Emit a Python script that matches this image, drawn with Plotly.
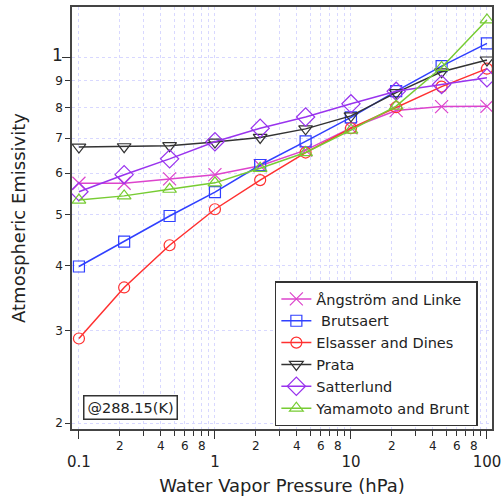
import plotly.graph_objects as go

# ---- data ----
pressure_hpa = [0.1, 0.215, 0.464, 1, 2.15, 4.64, 10, 21.5, 46.4, 100]

angstrom_linke = [0.574, 0.574, 0.585, 0.596, 0.620, 0.664, 0.732, 0.790, 0.804, 0.805]
brutsaert = [0.398, 0.444, 0.497, 0.552, 0.622, 0.690, 0.767, 0.861, 0.961, 1.062]
elsasser_dines = [0.290, 0.363, 0.437, 0.512, 0.582, 0.657, 0.731, 0.802, 0.878, 0.950]
prata = [0.673, 0.674, 0.677, 0.688, 0.702, 0.729, 0.772, 0.855, 0.937, 0.987]
satterlund = [0.553, 0.596, 0.639, 0.689, 0.731, 0.768, 0.814, 0.860, 0.886, 0.913]
yamamoto_brunt = [0.533, 0.543, 0.559, 0.575, 0.613, 0.657, 0.725, 0.806, 0.955, 1.177]

series_names = ["Ångström and Linke", " Brutsaert", "Elsasser and Dines", "Prata",
                "Satterlund", "Yamamoto and Brunt"]

x_minor_vals = [0.1, 0.2, 0.3, 0.4, 0.5, 0.6, 0.7, 0.8, 0.9,
                1, 2, 3, 4, 5, 6, 7, 8, 9,
                10, 20, 30, 40, 50, 60, 70, 80, 90, 100]
x_minor_labels = ["", "2", "", "4", "", "6", "", "8", "",
                  "", "2", "", "4", "", "6", "", "8", "",
                  "", "2", "", "4", "", "6", "", "8", "", ""]
x_major_vals = [0.1, 1, 10, 100]
x_major_labels = ["0.1", "1", "10", "100"]

y_tickvals = [0.2, 0.3, 0.4, 0.5, 0.6, 0.7, 0.8, 0.9, 1.0]
y_ticklabels = ["2", "3", "4", "5", "6", "7", "8", "9", "1"]
y_major = [1.0]

FONT = "DejaVu Sans, Arial, sans-serif"

styles = [
    dict(color="#dd44cc", symbol="x-thin-open", size=13),
    dict(color="#3040ff", symbol="square-open", size=11),
    dict(color="#ff3030", symbol="circle-open", size=11),
    dict(color="#333333", symbol="triangle-down-open", size=12),
    dict(color="#9933ee", symbol="diamond-open", size=14),
    dict(color="#77cc33", symbol="triangle-up-open", size=12),
]
all_series = [angstrom_linke, brutsaert, elsasser_dines, prata, satterlund, yamamoto_brunt]

fig = go.Figure()
for name, ys, st in zip(series_names, all_series, styles):
    fig.add_trace(go.Scatter(
        x=pressure_hpa, y=ys, name=name, mode="lines+markers",
        line=dict(color=st["color"], width=1.5),
        marker=dict(symbol=st["symbol"], size=st["size"], color=st["color"],
                    line=dict(color=st["color"], width=1.2)),
    ))

# invisible carrier so the overlay axes (decade ticks / labels) get drawn
fig.add_trace(go.Scatter(x=pressure_hpa, y=prata, xaxis="x2", yaxis="y2",
                         mode="none", showlegend=False, hoverinfo="skip"))


def fmt_y(v, t):
    if v in y_major:
        return "<span style='font-size:17px'>%s</span>" % t
    return t


grid_col = "#d8d8ff"
fig.update_layout(
    width=503, height=498,
    margin=dict(l=72, r=11, t=7, b=69),
    paper_bgcolor="white", plot_bgcolor="white",
    font=dict(family=FONT, color="#222222", size=12),
    showlegend=True,
    legend=dict(x=0.483, y=0.006, xanchor="left", yanchor="bottom",
                bgcolor="white", bordercolor="#333333", borderwidth=1.5,
                font=dict(size=14.5, family=FONT, color="#222222"),
                tracegroupgap=0, itemwidth=30),
    xaxis=dict(type="log", range=[-1.051, 2.037], automargin=False,
               tickmode="array", tickvals=x_minor_vals, ticktext=x_minor_labels,
               tickangle=0,
               ticks="outside", ticklen=5, tickwidth=1.2, tickcolor="#333333",
               tickfont=dict(size=12, family=FONT, color="#222222"),
               showline=True, linecolor="#444444", linewidth=1.5, mirror=True,
               showgrid=True, gridcolor=grid_col, griddash="dot", gridwidth=1,
               zeroline=False,
               title=dict(text="Water Vapor Pressure (hPa)", standoff=27,
                          font=dict(size=18, family=FONT, color="#222222"))),
    yaxis=dict(type="log", range=[-0.7104, 0.0955], automargin=False,
               tickmode="array", tickvals=y_tickvals,
               ticktext=[fmt_y(v, t) for v, t in zip(y_tickvals, y_ticklabels)],
               ticks="outside", ticklen=5, tickwidth=1.2, tickcolor="#333333",
               tickfont=dict(size=12, family=FONT, color="#222222"),
               showline=True, linecolor="#444444", linewidth=1.5, mirror=True,
               showgrid=True, gridcolor=grid_col, griddash="dot", gridwidth=1,
               zeroline=False,
               title=dict(text="Atmospheric Emissivity", standoff=22,
                          font=dict(size=18, family=FONT, color="#222222"))),
    xaxis2=dict(type="log", range=[-1.051, 2.037], overlaying="x", side="bottom",
                anchor="y", tickmode="array", tickvals=x_major_vals,
                ticktext=x_major_labels, tickangle=0, automargin=False,
                ticks="outside", ticklen=9, tickwidth=1.2, tickcolor="#333333",
                ticklabelstandoff=10,
                tickfont=dict(size=15, family=FONT, color="#222222"),
                showticklabels=True, showgrid=False, showline=False, zeroline=False),
    yaxis2=dict(type="log", range=[-0.7104, 0.0955], overlaying="y", side="left",
                anchor="x", tickmode="array", tickvals=y_major, automargin=False,
                ticks="outside", ticklen=9, tickwidth=1.2, tickcolor="#333333",
                showticklabels=False, showgrid=False, showline=False, zeroline=False),
)

fig.add_annotation(
    text="@288.15(K)", xref="paper", yref="paper", x=0.026, y=0.022,
    xanchor="left", yanchor="bottom", showarrow=False,
    font=dict(size=14.5, family=FONT, color="#222222"),
    bordercolor="#333333", borderwidth=1.5, borderpad=3, bgcolor="white",
)

fig.write_html("out.html", config={"displayModeBar": False},
               post_script="document.body.style.margin='0';")
